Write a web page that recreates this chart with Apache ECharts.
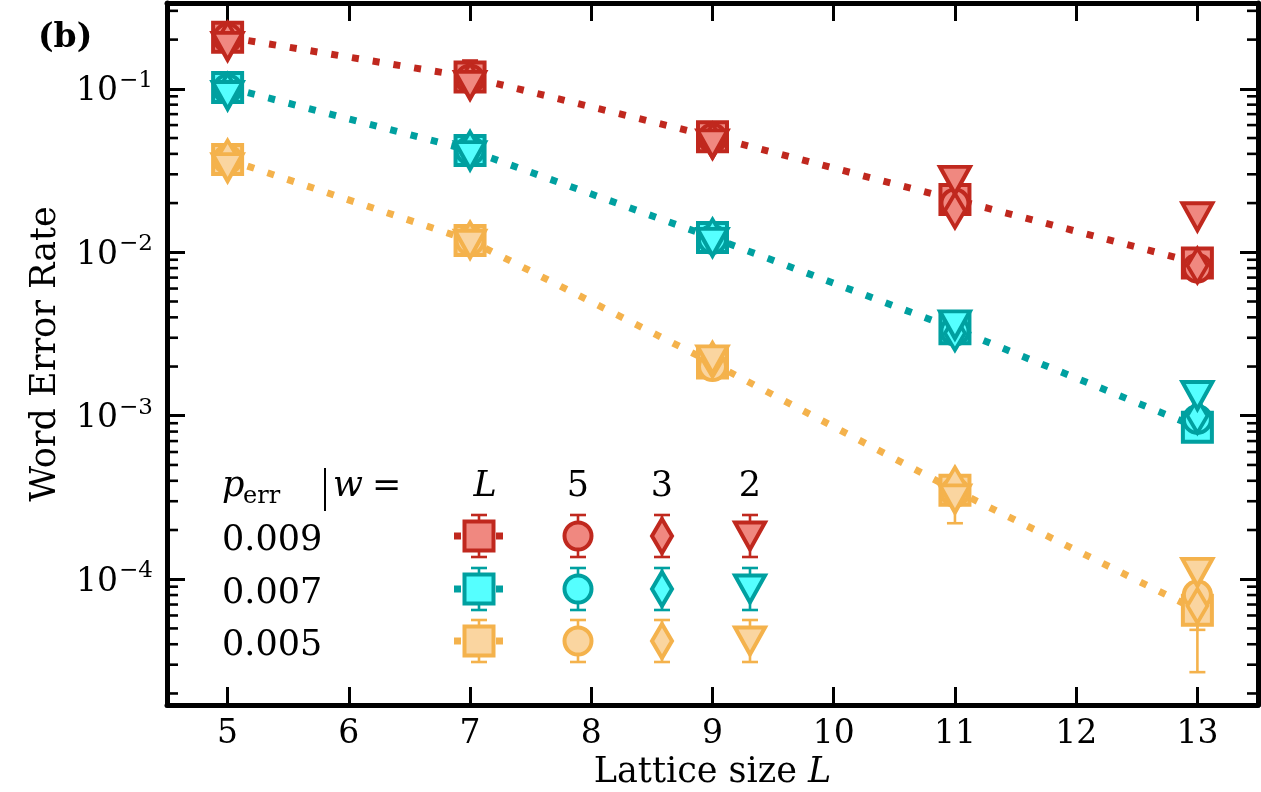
<!DOCTYPE html>
<html><head><meta charset="utf-8">
<script src="https://cdn.jsdelivr.net/npm/echarts@6/dist/echarts.min.js"></script>
<style>html,body{margin:0;padding:0;background:#fff}#c{width:1261px;height:792px}</style>
</head><body><div id="c"></div><script>
// ---------------- data ----------------
const latticeSizes = [5, 7, 9, 11, 13];
const pErrLabels = ['0.009', '0.007', '0.005'];
const wLabels = ['L', '5', '3', '2'];

// word error rate, p_err = 0.009
const wer009_wL = [0.207, 0.118, 0.051, 0.0210, 0.0086];
const wer009_w5 = [0.205, 0.115, 0.050, 0.0200, 0.0080];
const wer009_w3 = [0.200, 0.112, 0.048, 0.0180, 0.0083];
const wer009_w2 = [0.182, 0.105, 0.046, 0.0275, 0.0165];
// p_err = 0.007
const wer007_wL = [0.102, 0.042, 0.0123, 0.0034, 0.00085];
const wer007_w5 = [0.100, 0.042, 0.0120, 0.0033, 0.00095];
const wer007_w3 = [0.097, 0.043, 0.0125, 0.0032, 0.00100];
const wer007_w2 = [0.091, 0.039, 0.0115, 0.0036, 0.00133];
// p_err = 0.005
const wer005_wL = [0.037, 0.0118, 0.0021, 0.00035, 0.0000646];
const wer005_w5 = [0.037, 0.0118, 0.0020, 0.00034, 0.0000803];
const wer005_w3 = [0.038, 0.0120, 0.0022, 0.00038, 0.0000687];
const wer005_w2 = [0.033, 0.0112, 0.0022, 0.00031, 0.000110];

// visible error bars: [p index, L, lower, upper]
const errorBars = [
  [0, 7, 0.100, 0.149],
  [2, 11, 0.00022, 0.00038],
  [2, 13, 0.000049, 0.000080],
  [2, 13, 0.000027, 0.000095]
];

// ---------------- styles / layout ----------------
const werByP = [
  [wer009_wL, wer009_w5, wer009_w3, wer009_w2],
  [wer007_wL, wer007_w5, wer007_w3, wer007_w2],
  [wer005_wL, wer005_w5, wer005_w3, wer005_w2]
];
const edgeColors = ['#C0281E', '#00A0A0', '#F4B24C'];
const faceColors = ['#F08880', '#55FFFF', '#FAD5A0'];
const symbolDefs = [
  { symbol: 'rect', size: [29, 29], rotate: 0 },
  { symbol: 'circle', size: [27, 27], rotate: 0 },
  { symbol: 'diamond', size: [20, 34], rotate: 0 },
  { symbol: 'triangle', size: [30, 27], rotate: 180 }
];
const FONT = "'DejaVu Serif', 'Liberation Serif', serif";
const xMin = 4.5, xMax = 13.5, yMin = 1.7e-5, yMax = 0.335;
const EW = 4; // marker edge width

const series = [];
// minor ticks on log axis (left & right)
const minorTickValues = [];
for (let n = -5; n <= -1; n++) for (let k = 2; k <= 9; k++) {
  const v = k * Math.pow(10, n);
  if (v > yMin && v < yMax) minorTickValues.push([xMin, v]);
}
series.push({
  type: 'custom', coordinateSystem: 'cartesian2d', silent: true, clip: false, z: 1,
  data: minorTickValues,
  renderItem: function (params, api) {
    const y = api.coord([api.value(0), api.value(1)])[1];
    const cs = params.coordSys;
    const st = { stroke: '#000', lineWidth: 2.6 };
    return { type: 'group', children: [
      { type: 'line', shape: { x1: cs.x, y1: y, x2: cs.x + 11, y2: y }, style: st },
      { type: 'line', shape: { x1: cs.x + cs.width, y1: y, x2: cs.x + cs.width - 11, y2: y }, style: st }
    ]};
  }
});
// error bars
series.push({
  type: 'custom', coordinateSystem: 'cartesian2d', silent: true, z: 2,
  data: errorBars.map(e => [e[1], e[2], e[3], e[0]]),
  renderItem: function (params, api) {
    const L = api.value(0);
    const lo = api.coord([L, api.value(1)]);
    const hi = api.coord([L, api.value(2)]);
    const col = edgeColors[api.value(3)];
    const st = { stroke: col, lineWidth: 2.6 };
    const hw = 8;
    return { type: 'group', children: [
      { type: 'line', shape: { x1: lo[0], y1: lo[1], x2: hi[0], y2: hi[1] }, style: st },
      { type: 'line', shape: { x1: lo[0] - hw, y1: lo[1], x2: lo[0] + hw, y2: lo[1] }, style: st },
      { type: 'line', shape: { x1: hi[0] - hw, y1: hi[1], x2: hi[0] + hw, y2: hi[1] }, style: st }
    ]};
  }
});
// markers (and dotted line for w = L)
for (let w = 0; w < 4; w++) {
  for (let p = 0; p < 3; p++) {
    const d = latticeSizes.map((L, i) => [L, werByP[p][w][i]]);
    const sd = symbolDefs[w];
    const s = {
      name: 'p' + pErrLabels[p] + ' w' + wLabels[w],
      type: w === 0 ? 'line' : 'scatter',
      data: d,
      symbol: sd.symbol, symbolSize: sd.size, symbolRotate: sd.rotate,
      itemStyle: { color: faceColors[p], borderColor: edgeColors[p], borderWidth: EW, opacity: 1 },
      z: 3 + w,
      silent: true
    };
    if (w === 0) {
      s.showSymbol = true;
      s.lineStyle = { color: edgeColors[p], width: 7, type: [7, 14], cap: 'butt' };
    }
    series.push(s);
  }
}

// ---------------- legend (graphic) ----------------
const LG = { labelX: 222, headerY: 487, rowY: [536, 589, 641], colX: [479, 578, 662, 750] };
const graphic = [];
graphic.push({ type: 'text', x: 38, y: 38, style: { text: '(b)', font: 'bold 33px ' + FONT, fill: '#000', verticalAlign: 'middle' } });
graphic.push({ type: 'text', x: LG.labelX, y: LG.headerY, style: { text: 'p', font: 'italic 35px ' + FONT, fill: '#000', verticalAlign: 'middle' } });
graphic.push({ type: 'text', x: LG.labelX + 21, y: LG.headerY + 10, style: { text: 'err', font: '24px ' + FONT, fill: '#000', verticalAlign: 'middle' } });
graphic.push({ type: 'line', shape: { x1: 325, y1: 468, x2: 325, y2: 511 }, style: { stroke: '#000', lineWidth: 2 } });
graphic.push({ type: 'text', x: 333, y: LG.headerY, style: { text: 'w', font: 'italic 35px ' + FONT, fill: '#000', verticalAlign: 'middle' } });
graphic.push({ type: 'text', x: 372, y: LG.headerY, style: { text: '=', font: '35px ' + FONT, fill: '#000', verticalAlign: 'middle' } });
for (let c = 0; c < 4; c++) {
  graphic.push({ type: 'text', x: LG.colX[c] + (c === 0 ? 6 : 0), y: LG.headerY,
    style: { text: wLabels[c], font: (c === 0 ? 'italic ' : '') + '35px ' + FONT, fill: '#000', align: 'center', verticalAlign: 'middle' } });
}
for (let r = 0; r < 3; r++) {
  const cy = LG.rowY[r];
  graphic.push({ type: 'text', x: LG.labelX, y: cy + 5, style: { text: pErrLabels[r], font: '35px ' + FONT, fill: '#000', verticalAlign: 'middle' } });
  for (let c = 0; c < 4; c++) {
    const cx = LG.colX[c];
    const ec = edgeColors[r], fc = faceColors[r];
    const est = { stroke: ec, lineWidth: 2.6 };
    graphic.push({ type: 'line', shape: { x1: cx, y1: cy - 21, x2: cx, y2: cy + 21 }, style: est });
    graphic.push({ type: 'line', shape: { x1: cx - 8, y1: cy - 21, x2: cx + 8, y2: cy - 21 }, style: est });
    graphic.push({ type: 'line', shape: { x1: cx - 8, y1: cy + 21, x2: cx + 8, y2: cy + 21 }, style: est });
    const ms = { fill: fc, stroke: ec, lineWidth: EW };
    if (c === 0) {
      graphic.push({ type: 'rect', shape: { x: cx - 25, y: cy - 3.5, width: 7, height: 7 }, style: { fill: ec } });
      graphic.push({ type: 'rect', shape: { x: cx + 17, y: cy - 3.5, width: 7, height: 7 }, style: { fill: ec } });
      graphic.push({ type: 'rect', shape: { x: cx - 14.5, y: cy - 14.5, width: 29, height: 29 }, style: ms });
    } else if (c === 1) {
      graphic.push({ type: 'circle', shape: { cx: cx, cy: cy, r: 13.5 }, style: ms });
    } else if (c === 2) {
      graphic.push({ type: 'polygon', shape: { points: [[cx, cy - 17], [cx + 10, cy], [cx, cy + 17], [cx - 10, cy]] }, style: ms });
    } else {
      graphic.push({ type: 'polygon', shape: { points: [[cx - 15, cy - 13.5], [cx + 15, cy - 13.5], [cx, cy + 13.5]] }, style: ms });
    }
  }
}

// ---------------- axes ----------------
const axisLineStyle = { show: true, onZero: false, lineStyle: { color: '#000', width: 5 } };
const majorTick = { show: true, inside: true, length: 18, lineStyle: { color: '#000', width: 3 } };
const xCommon = {
  type: 'value', min: xMin, max: xMax, splitNumber: 9, minInterval: 1, maxInterval: 1,
  axisLine: axisLineStyle, axisTick: majorTick, splitLine: { show: false }, minorTick: { show: false }
};
const yCommon = {
  type: 'log', logBase: 10, min: yMin, max: yMax,
  axisLine: axisLineStyle, axisTick: majorTick, splitLine: { show: false }, minorTick: { show: false }
};

const option = {
  animation: false,
  backgroundColor: '#fff',
  grid: { left: 167, right: 3, top: 3, bottom: 87, containLabel: false, outerBoundsMode: 'none' },
  xAxis: [
    Object.assign({}, xCommon, {
      position: 'bottom',
      axisLabel: { fontFamily: FONT, fontSize: 33, color: '#000', margin: 13, showMinLabel: false, showMaxLabel: false,
        formatter: v => (Math.abs(v - Math.round(v)) < 1e-9 ? String(Math.round(v)) : '') },
      name: 'Lattice size {i|L}', nameLocation: 'middle', nameGap: 50,
      nameTextStyle: { fontFamily: FONT, fontSize: 35, color: '#000', rich: { i: { fontFamily: FONT, fontSize: 35, fontStyle: 'italic', color: '#000' } } }
    }),
    Object.assign({}, xCommon, { position: 'top', axisLabel: { show: false } })
  ],
  yAxis: [
    Object.assign({}, yCommon, {
      position: 'left',
      axisLabel: {
        color: '#000', margin: 14, showMinLabel: false, showMaxLabel: false,
        formatter: function (v) {
          const lg = Math.log10(v), e = Math.round(lg);
          if (Math.abs(lg - e) > 1e-6) return '';
          return '{b|10}{s|' + (e < 0 ? '\u2212' : '') + Math.abs(e) + '}';
        },
        rich: {
          b: { fontFamily: FONT, fontSize: 33, color: '#000', verticalAlign: 'bottom' },
          s: { fontFamily: FONT, fontSize: 23, color: '#000', verticalAlign: 'top', padding: [0, 0, 16, 1] }
        }
      },
      name: 'Word Error Rate', nameLocation: 'middle', nameGap: 104,
      nameTextStyle: { fontFamily: FONT, fontSize: 35, color: '#000' }
    }),
    Object.assign({}, yCommon, { position: 'right', axisLabel: { show: false } })
  ],
  series: series,
  graphic: graphic
};

const chart = echarts.init(document.getElementById('c'));
chart.setOption(option);
</script></body></html>
